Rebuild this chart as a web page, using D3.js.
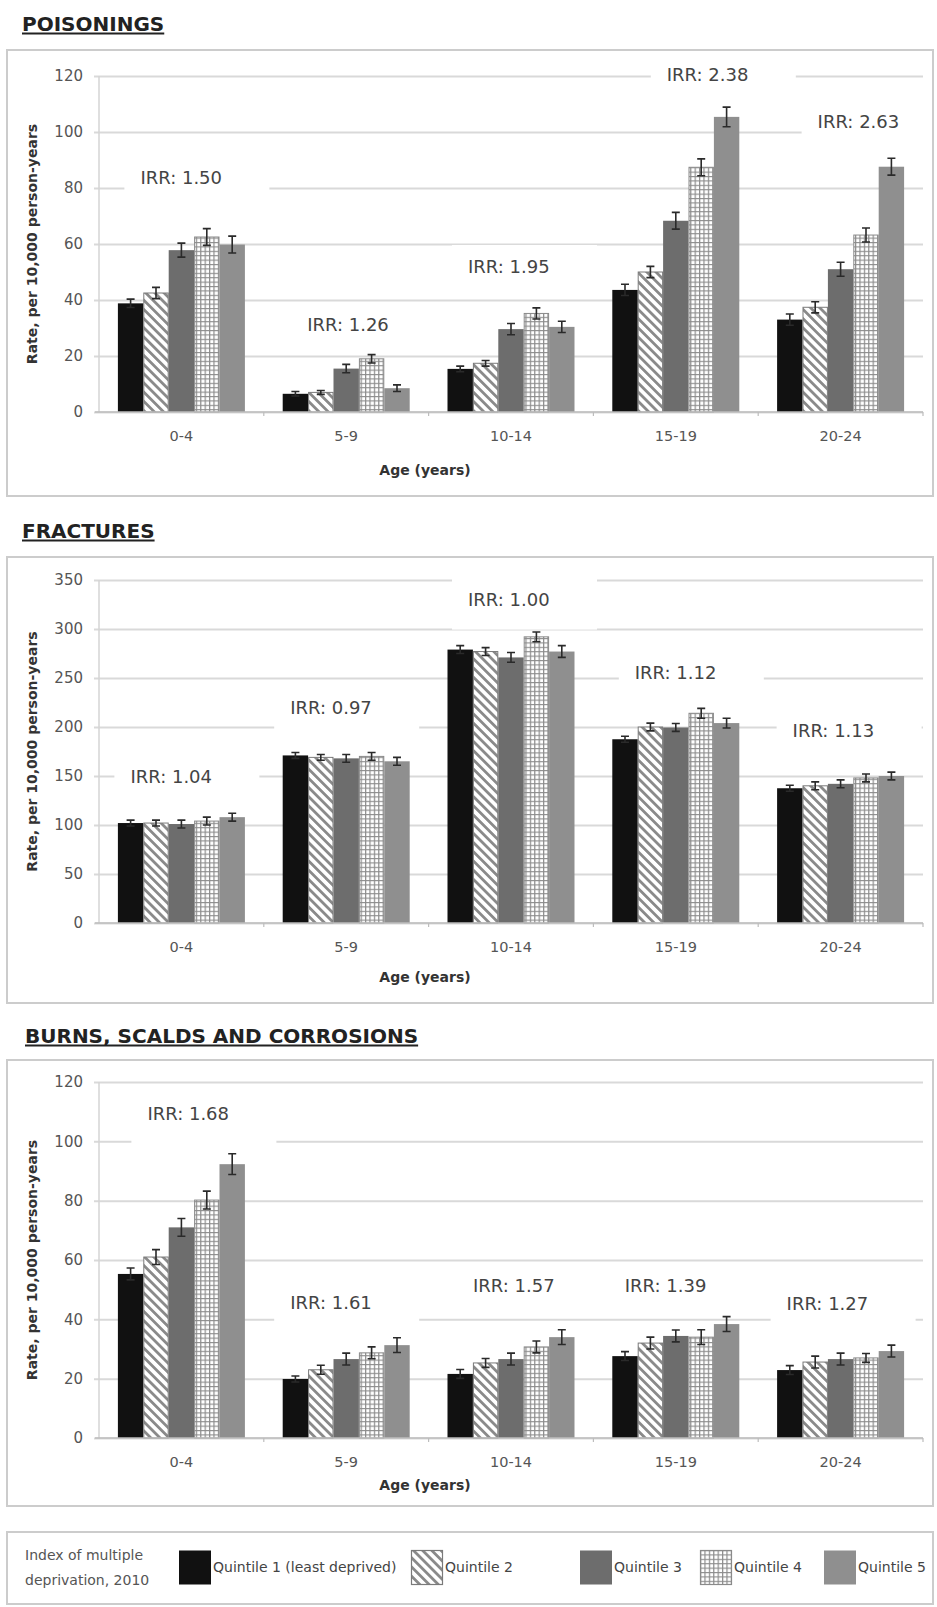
<!DOCTYPE html>
<html>
<head>
<meta charset="utf-8">
<script src="https://cdnjs.cloudflare.com/ajax/libs/d3/7.8.5/d3.min.js"></script>
<style>
  body { margin: 0; background: #fff; }
  svg { display: block; font-family: "DejaVu Sans", Verdana, sans-serif; }
</style>
</head>
<body>
<div id="chart"></div>
<script>
// Categories and series
const ageGroups = ['0-4', '5-9', '10-14', '15-19', '20-24'];
const quintiles = ['Quintile 1 (least deprived)', 'Quintile 2', 'Quintile 3', 'Quintile 4', 'Quintile 5'];

// Rates per 10,000 person-years, one row per age group, one value per quintile
const poisoningRates = [
  [38.8, 42.5, 57.8, 62.5, 59.8],
  [6.5, 7, 15.5, 19, 8.5],
  [15.4, 17.4, 29.6, 35.2, 30.4],
  [43.6, 50, 68.3, 87.4, 105.4],
  [33, 37.4, 51, 63.2, 87.6]
];
const poisoningErrors = [
  [1.5, 2, 2.5, 3, 3],
  [0.8, 0.7, 1.5, 1.5, 1.2],
  [1, 1, 2, 2, 2],
  [2, 2, 3, 3, 3.5],
  [2, 2, 2.5, 2.5, 3]
];
const poisoningIrr = ['1.50', '1.26', '1.95', '2.38', '2.63'];
const poisoningTicks = [0, 20, 40, 60, 80, 100, 120];

const fractureRates = [
  [102, 102, 101, 104, 108],
  [171, 169, 168, 170, 165],
  [279, 277, 271, 292, 277],
  [187.5, 200, 199.5, 214, 204],
  [137.5, 140, 142, 148, 150]
];
const fractureErrors = [
  [3, 3, 4, 4, 4],
  [3, 3, 4, 4, 4],
  [4, 4, 5, 5, 6],
  [3, 4, 4, 5, 5],
  [3, 4, 4, 4, 4]
];
const fractureIrr = ['1.04', '0.97', '1.00', '1.12', '1.13'];
const fractureTicks = [0, 50, 100, 150, 200, 250, 300, 350];

const burnRates = [
  [55.3, 61, 71, 80.2, 92.3],
  [19.9, 23, 26.6, 28.7, 31.3],
  [21.6, 25.3, 26.6, 30.7, 34],
  [27.6, 32, 34.4, 34, 38.4],
  [22.9, 25.6, 26.6, 27, 29.3]
];
const burnErrors = [
  [2, 2.5, 3, 3, 3.5],
  [1, 1.5, 2, 2, 2.5],
  [1.5, 1.5, 2, 2, 2.5],
  [1.5, 2, 2, 2.5, 2.5],
  [1.5, 2, 2, 1.5, 2]
];
const burnIrr = ['1.68', '1.61', '1.57', '1.39', '1.27'];
const burnTicks = [0, 20, 40, 60, 80, 100, 120];

// Where each IRR note sits: [pixel shift from group centre, height in axis units]
const poisoningIrrAt = [[-41, 83.6], [-39, 31.1], [-43, 51.8], [-9, 120.4], [-23, 103.6]];
const fractureIrrAt = [[-51, 149], [-56, 220], [-43, 330], [-41, 256], [-48, 196]];
const burnIrrAt = [[-34, 109.5], [-56, 45.8], [-38, 51.4], [-51, 51.4], [-54, 45.4]];

const legendSwatchX = [179, 411, 580, 700, 824];

const width = 937;
const height = 1607;
const plotLeft = 99;
const plotRight = 923;
const barFills = ['#111111', 'url(#hatch)', '#6d6d6d', 'url(#grid)', '#8f8f8f'];
const barStrokes = ['none', '#7a7a7a', 'none', '#8a8a8a', 'none'];

const svg = d3.select('#chart').append('svg')
  .attr('width', width)
  .attr('height', height);

svg.append('rect').attr('width', width).attr('height', height).attr('fill', '#fff');

// Fill patterns for quintile 2 (diagonal) and quintile 4 (check)
const defs = svg.append('defs');
const hatch = defs.append('pattern')
  .attr('id', 'hatch')
  .attr('patternUnits', 'userSpaceOnUse')
  .attr('width', 6.5).attr('height', 6.5)
  .attr('patternTransform', 'rotate(-45)');
hatch.append('rect').attr('width', 6.5).attr('height', 6.5).attr('fill', '#fff');
hatch.append('rect').attr('width', 2.8).attr('height', 6.5).attr('fill', '#8a8a8a');

const grid = defs.append('pattern')
  .attr('id', 'grid')
  .attr('patternUnits', 'userSpaceOnUse')
  .attr('width', 4.4).attr('height', 4.4);
grid.append('rect').attr('width', 4.4).attr('height', 4.4).attr('fill', '#fff');
grid.append('path').attr('d', 'M0,0.6H4.4M0.6,0V4.4')
  .attr('stroke', '#8c8c8c').attr('stroke-width', 1.2);

/**
 * Draws one boxed panel of grouped bars with error bars and IRR notes
 * @param {object} cfg - data and frame of the panel
 */
function drawPanel(cfg) {
  const g = svg.append('g');

  // Title with underline
  const title = g.append('text')
    .attr('x', cfg.titleX)
    .attr('y', cfg.titleBaseline)
    .attr('font-size', 20)
    .attr('font-weight', 'bold')
    .attr('fill', '#222')
    .text(cfg.title);
  const titleLen = title.node().getComputedTextLength();
  g.append('line')
    .attr('x1', cfg.titleX).attr('x2', cfg.titleX + titleLen)
    .attr('y1', cfg.titleBaseline + 2.5).attr('y2', cfg.titleBaseline + 2.5)
    .attr('stroke', '#222').attr('stroke-width', 1.8);

  // Frame
  g.append('rect')
    .attr('x', 7).attr('y', cfg.boxTop)
    .attr('width', 926).attr('height', cfg.boxBottom - cfg.boxTop)
    .attr('fill', 'none')
    .attr('stroke', '#cccccc')
    .attr('stroke-width', 2);

  const y = d3.scaleLinear()
    .domain([0, cfg.ticks[cfg.ticks.length - 1]])
    .range([cfg.plotBottom, cfg.plotTop]);

  const x0 = d3.scaleBand()
    .domain(ageGroups)
    .range([plotLeft, plotRight])
    .padding(0);

  const x1 = d3.scaleBand()
    .domain(d3.range(quintiles.length))
    .range([0, x0.bandwidth()])
    .paddingInner(0)
    .paddingOuter(0.744);

  // Gridlines and y tick labels
  const yAxis = g.append('g')
    .attr('transform', `translate(${plotLeft},0)`)
    .call(d3.axisLeft(y).tickValues(cfg.ticks).tickSize(-(plotRight - plotLeft)).tickPadding(16));
  yAxis.select('.domain').remove();
  yAxis.selectAll('.tick line')
    .attr('x1', -5)
    .attr('stroke', '#d9d9d9')
    .attr('stroke-width', 2);
  yAxis.selectAll('.tick text')
    .attr('font-family', '"DejaVu Sans", Verdana, sans-serif')
    .attr('font-size', 15)
    .attr('fill', '#555');

  g.append('line')
    .attr('x1', plotLeft).attr('x2', plotLeft)
    .attr('y1', cfg.plotTop).attr('y2', cfg.plotBottom)
    .attr('stroke', '#d4d4d4').attr('stroke-width', 1.5);

  // White boxes behind the IRR notes
  const irrLeft = ageGroups.map((a, i) => x0(a) + x0.bandwidth() / 2 + cfg.irrAt[i][0]);
  g.selectAll('.irr-box')
    .data(cfg.irr)
    .enter().append('rect')
    .attr('class', 'irr-box')
    .attr('x', (d, i) => irrLeft[i] - 16)
    .attr('y', (d, i) => y(cfg.irrAt[i][1]) - 22)
    .attr('width', (d, i) => Math.min(145, plotRight + 2 - (irrLeft[i] - 16)))
    .attr('height', 52)
    .attr('fill', '#fff');

  // Bars
  const groups = g.selectAll('.age-group')
    .data(ageGroups)
    .enter().append('g')
    .attr('class', 'age-group')
    .attr('transform', d => `translate(${x0(d)},0)`);

  groups.selectAll('rect')
    .data((d, i) => cfg.rates[i].map((v, q) => ({ q, v, e: cfg.errors[i][q] })))
    .enter().append('rect')
    .attr('x', d => x1(d.q) + (barStrokes[d.q] === 'none' ? 0 : 0.5))
    .attr('y', d => y(d.v))
    .attr('width', d => x1.bandwidth() - (barStrokes[d.q] === 'none' ? 0 : 1))
    .attr('height', d => y(0) - y(d.v))
    .attr('fill', d => barFills[d.q])
    .attr('stroke', d => barStrokes[d.q])
    .attr('stroke-width', 1);

  // Error bars
  groups.selectAll('path.err')
    .data((d, i) => cfg.rates[i].map((v, q) => ({ q, v, e: cfg.errors[i][q] })))
    .enter().append('path')
    .attr('class', 'err')
    .attr('d', d => {
      const cx = x1(d.q) + x1.bandwidth() / 2;
      const top = y(d.v + d.e);
      const bot = y(d.v - d.e);
      return `M${cx - 4},${top}H${cx + 4}M${cx},${top}V${bot}M${cx - 4},${bot}H${cx + 4}`;
    })
    .attr('fill', 'none')
    .attr('stroke', '#2a2a2a')
    .attr('stroke-width', 1.6);

  // IRR notes
  g.selectAll('.irr')
    .data(cfg.irr)
    .enter().append('text')
    .attr('class', 'irr')
    .attr('x', (d, i) => irrLeft[i])
    .attr('y', (d, i) => y(cfg.irrAt[i][1]))
    .attr('dy', '0.36em')
    .attr('font-size', 18)
    .attr('fill', '#444')
    .text(d => `IRR: ${d}`);

  // Category axis
  const xAxis = g.append('g')
    .attr('transform', `translate(0,${cfg.plotBottom})`)
    .call(d3.axisBottom(x0).tickSize(0).tickPadding(19));
  xAxis.select('.domain')
    .attr('d', `M${plotLeft - 4},0H${plotRight}`)
    .attr('stroke', '#bdbdbd')
    .attr('stroke-width', 1.5);
  xAxis.selectAll('.tick text')
    .attr('font-family', '"DejaVu Sans", Verdana, sans-serif')
    .attr('font-size', 14.5)
    .attr('fill', '#555');
  xAxis.selectAll('.bound')
    .data(ageGroups.slice(1).map(a => x0(a)).concat([plotRight]))
    .enter().append('line')
    .attr('class', 'bound')
    .attr('x1', d => d).attr('x2', d => d)
    .attr('y1', 0).attr('y2', 4)
    .attr('stroke', '#bdbdbd')
    .attr('stroke-width', 1.2);

  // Axis titles
  g.append('text')
    .attr('transform', `translate(32,${(cfg.plotTop + cfg.plotBottom) / 2}) rotate(-90)`)
    .attr('text-anchor', 'middle')
    .attr('dy', '0.35em')
    .attr('font-size', 14)
    .attr('font-weight', 'bold')
    .attr('fill', '#333')
    .text('Rate, per 10,000 person-years');

  g.append('text')
    .attr('x', 425)
    .attr('y', cfg.ageY)
    .attr('dy', '0.35em')
    .attr('text-anchor', 'middle')
    .attr('font-size', 14)
    .attr('font-weight', 'bold')
    .attr('fill', '#333')
    .text('Age (years)');
}

drawPanel({
  title: 'POISONINGS', titleX: 22, titleBaseline: 31,
  boxTop: 50, boxBottom: 496, plotTop: 76, plotBottom: 412, ageY: 470,
  rates: poisoningRates, errors: poisoningErrors, irr: poisoningIrr,
  irrAt: poisoningIrrAt, ticks: poisoningTicks
});

drawPanel({
  title: 'FRACTURES', titleX: 22, titleBaseline: 538,
  boxTop: 557, boxBottom: 1003, plotTop: 580, plotBottom: 923, ageY: 977,
  rates: fractureRates, errors: fractureErrors, irr: fractureIrr,
  irrAt: fractureIrrAt, ticks: fractureTicks
});

drawPanel({
  title: 'BURNS, SCALDS AND CORROSIONS', titleX: 25, titleBaseline: 1043,
  boxTop: 1060, boxBottom: 1506, plotTop: 1082, plotBottom: 1438, ageY: 1485,
  rates: burnRates, errors: burnErrors, irr: burnIrr,
  irrAt: burnIrrAt, ticks: burnTicks
});

// Legend
const legend = svg.append('g');
legend.append('rect')
  .attr('x', 7).attr('y', 1532)
  .attr('width', 926).attr('height', 72)
  .attr('fill', 'none')
  .attr('stroke', '#cccccc')
  .attr('stroke-width', 2);

legend.selectAll('.legend-head')
  .data(['Index of multiple', 'deprivation, 2010'])
  .enter().append('text')
  .attr('class', 'legend-head')
  .attr('x', 25)
  .attr('y', (d, i) => 1555 + i * 25)
  .attr('dy', '0.35em')
  .attr('font-size', 14)
  .attr('fill', '#555')
  .text(d => d);

const items = legend.selectAll('.legend-item')
  .data(quintiles)
  .enter().append('g')
  .attr('class', 'legend-item')
  .attr('transform', (d, i) => `translate(${legendSwatchX[i]},1550)`);

items.append('rect')
  .attr('x', (d, i) => barStrokes[i] === 'none' ? 0 : 0.5)
  .attr('y', 0.5)
  .attr('width', (d, i) => barStrokes[i] === 'none' ? 32 : 31)
  .attr('height', 34)
  .attr('fill', (d, i) => barFills[i])
  .attr('stroke', (d, i) => barStrokes[i])
  .attr('stroke-width', 1.2);

items.append('text')
  .attr('x', 34)
  .attr('y', 17)
  .attr('dy', '0.35em')
  .attr('font-size', 14)
  .attr('fill', '#444')
  .text(d => d);
</script>
</body>
</html>
